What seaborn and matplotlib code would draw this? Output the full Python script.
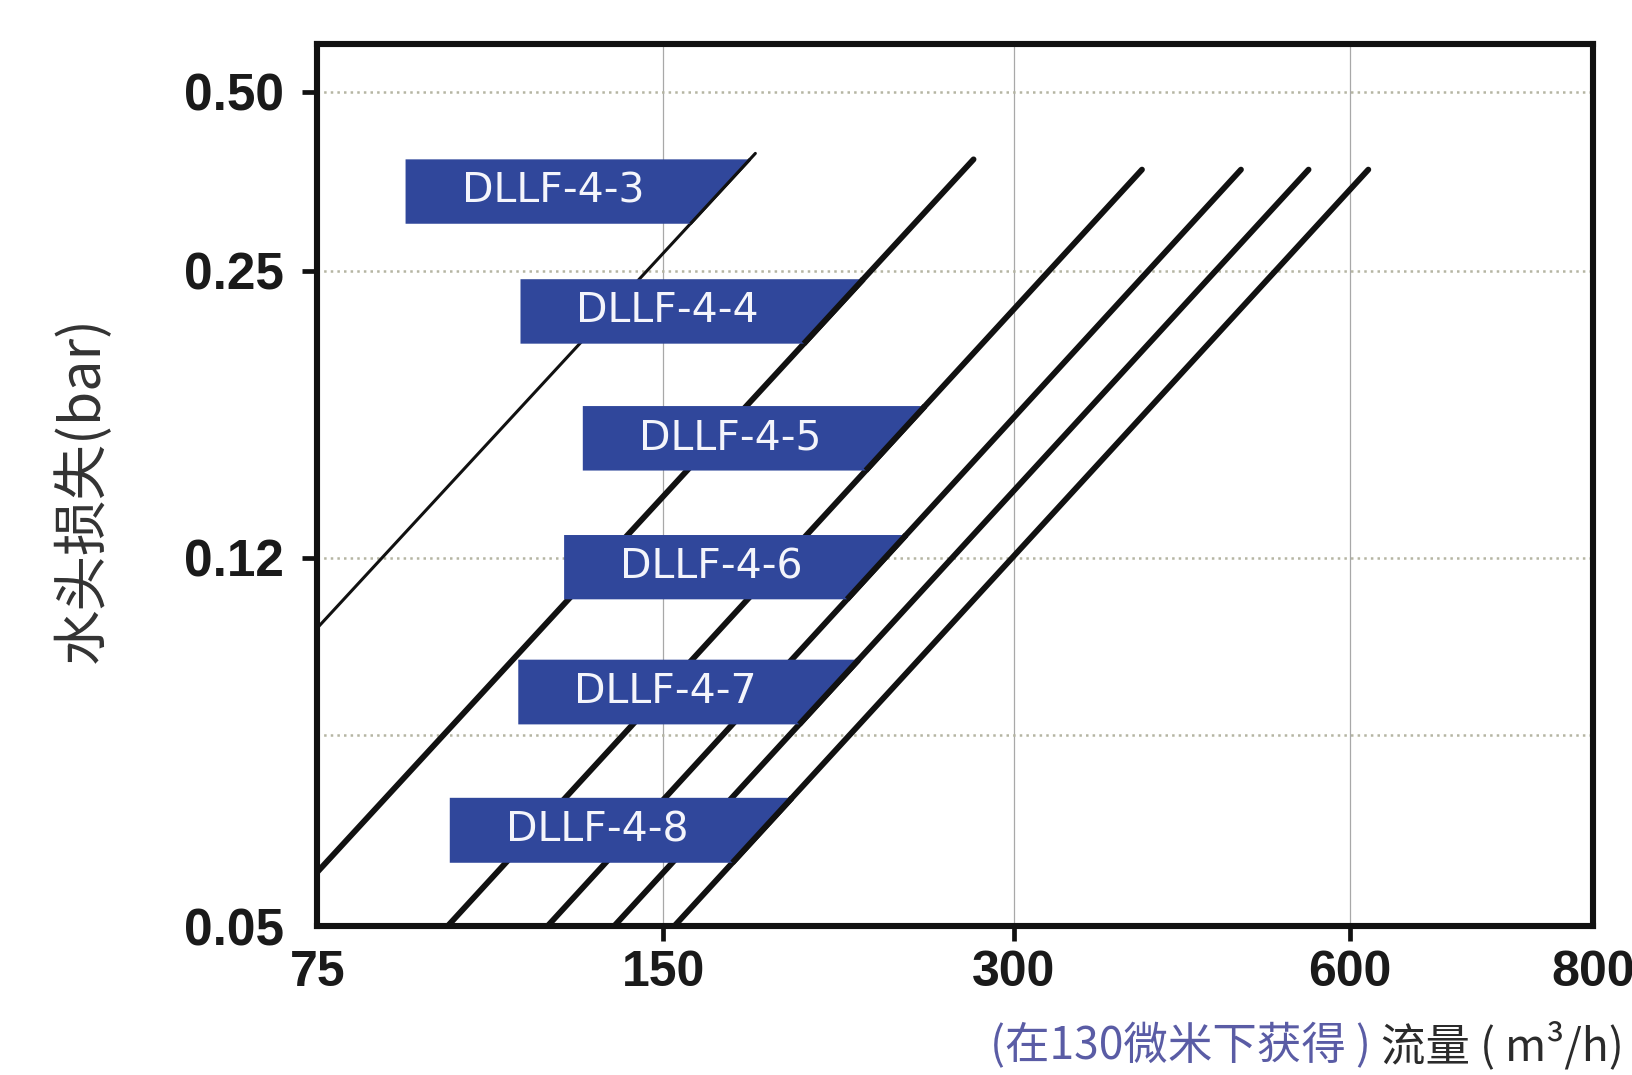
import numpy as np
import pandas as pd
import matplotlib
matplotlib.use("Agg")
import matplotlib.pyplot as plt
from matplotlib.patches import Polygon
import seaborn as sns

# ---- data ----
models = ['DLLF-4-3', 'DLLF-4-4', 'DLLF-4-5', 'DLLF-4-6', 'DLLF-4-7', 'DLLF-4-8']
# each model curve: flow (m3/h) and head loss (bar) at both ends
flow_start = [75, 75, 97.4, 119, 136, 153.4]
flow_end = [180, 277, 390.6, 479, 550.6, 613]
loss_start = [0.1022, 0.0571, 0.05, 0.05, 0.05, 0.05]
loss_end = [0.394, 0.385, 0.370, 0.370, 0.370, 0.370]

# label boxes: left edge (flow) and top / bottom (head loss)
box_left = [89.5, 112.7, 127.7, 123, 112.2, 97.8]
box_top = [0.385, 0.2447, 0.1769, 0.1272, 0.095, 0.0685]
box_bottom = [0.300, 0.2075, 0.150, 0.1091, 0.0819, 0.0584]

x_ticks = [75, 150, 300, 600, 800]
x_ticklabels = ['75', '150', '300', '600', '800']
y_ticks = [0.05, 0.12, 0.25, 0.50]
y_ticklabels = ['0.05', '0.12', '0.25', '0.50']
y_minor_grid = [0.08]

# the printed axes are not evenly logarithmic: place each tick value where the
# original drawing puts it (fraction of the axis) and interpolate in log space
x_knots = [75, 150, 300, 600, 800]
x_knot_pos = [0.0, 0.271, 0.5461, 0.8098, 1.0]
y_knots = [0.05, 0.08, 0.12, 0.25, 0.50, 0.60]
y_knot_pos = [0.0, 0.217, 0.4175, 0.7429, 0.9458, 1.0]


def make_scale(vals, pos):
    lv = np.log10(vals)

    def fwd(v):
        v = np.clip(np.asarray(v, dtype=float), 1e-9, None)
        return np.interp(np.log10(v), lv, pos)

    def inv(p):
        return 10 ** np.interp(np.asarray(p, dtype=float), pos, lv)
    return fwd, inv


fx, ix = make_scale(x_knots, x_knot_pos)
fy, iy = make_scale(y_knots, y_knot_pos)


def flow_on_line(i, y):
    # flow where model i's (straight on screen) line reaches head loss y
    t = (fy(y) - fy(loss_start[i])) / (fy(loss_end[i]) - fy(loss_start[i]))
    return ix(fx(flow_start[i]) + t * (fx(flow_end[i]) - fx(flow_start[i])))


# ---- plot ----
sns.set_theme(style="white")
plt.rcParams['font.family'] = ['Liberation Sans', 'Noto Sans CJK SC', 'DejaVu Sans']
cjk = ['Noto Sans CJK SC', 'DejaVu Sans']

fig = plt.figure(figsize=(16.32, 10.75), dpi=100)
ax = fig.add_axes([0.1945, 0.1386, 0.7815, 0.8204])

ax.set_xscale('function', functions=(fx, ix))
ax.set_yscale('function', functions=(fy, iy))
ax.set_xlim(75, 800)
ax.set_ylim(0.05, 0.60)

box_color = '#30479b'
for i, m in enumerate(models):
    lw = 2.2 if i == 0 else 4.2
    df = pd.DataFrame({'flow': [flow_start[i], flow_end[i]],
                       'loss': [loss_start[i], loss_end[i]]})
    sns.lineplot(data=df, x='flow', y='loss', ax=ax, color='#111111',
                 linewidth=lw, estimator=None, sort=False, zorder=2)

    # label box, right side cut along the model's own line
    xr_top = flow_on_line(i, box_top[i])
    xr_bot = flow_on_line(i, box_bottom[i])
    poly = Polygon([(box_left[i], box_bottom[i]), (xr_bot, box_bottom[i]),
                    (xr_top, box_top[i]), (box_left[i], box_top[i])],
                   closed=True, facecolor=box_color, edgecolor='none', zorder=3)
    ax.add_patch(poly)
    ax.plot([xr_bot, xr_top], [box_bottom[i], box_top[i]], color='#111111',
            lw=lw, zorder=4, solid_capstyle='butt')

    y_mid = iy((fy(box_top[i]) + fy(box_bottom[i])) / 2)
    ax.annotate(m, xy=(box_left[i], y_mid), xytext=(106, 0),
                textcoords='offset points', ha='center', va='center',
                color='#f4f5fb', fontsize=29.5, family='DejaVu Sans', zorder=5)

# ticks and grid
ax.set_xticks(x_ticks)
ax.set_xticklabels(x_ticklabels)
ax.set_yticks(y_ticks)
ax.set_yticklabels(y_ticklabels)
ax.set_yticks(y_minor_grid, minor=True)
ax.tick_params(axis='both', which='major', direction='out', length=11,
               width=3.4, color='#111111', labelcolor='#1a1a1a')
ax.tick_params(axis='y', which='major', pad=13, left=True, labelsize=37)
ax.tick_params(axis='x', which='major', pad=6, bottom=True, labelsize=36)
ax.tick_params(axis='y', which='minor', length=0)
for lab in ax.get_xticklabels() + ax.get_yticklabels():
    lab.set_fontweight('bold')
for t in ax.xaxis.get_major_ticks():
    if t.get_loc() in (75, 800):
        t.tick1line.set_visible(False)
for t in ax.yaxis.get_major_ticks():
    if t.get_loc() == 0.05:
        t.tick1line.set_visible(False)

ax.grid(axis='y', which='both', linestyle=':', linewidth=1.8, color='#b5b5a3')
ax.grid(axis='x', which='major', linestyle='-', linewidth=0.9, color='#a8a8a8')
ax.set_axisbelow(True)

for s in ax.spines.values():
    s.set_visible(True)
    s.set_color('#111111')
    s.set_linewidth(4.4)

ax.set_xlabel('')
ax.set_ylabel('')

# axis titles
fig.text(0.051, 0.545, '水头损失(bar)', rotation=90, ha='center', va='center',
         fontsize=40, color='#333333', family=cjk)
unit_txt = fig.text(0.995, 0.027, '流量 ( m³/h)', ha='right', va='center',
                    fontsize=32, color='#2b2b2b', family=cjk)
ax.annotate('(在130微米下获得 ) ', xy=(0, 0.5), xycoords=unit_txt,
            ha='right', va='center', fontsize=32, color='#5a5ca5',
            family=cjk, annotation_clip=False)

fig.savefig('out.png', dpi=100)
